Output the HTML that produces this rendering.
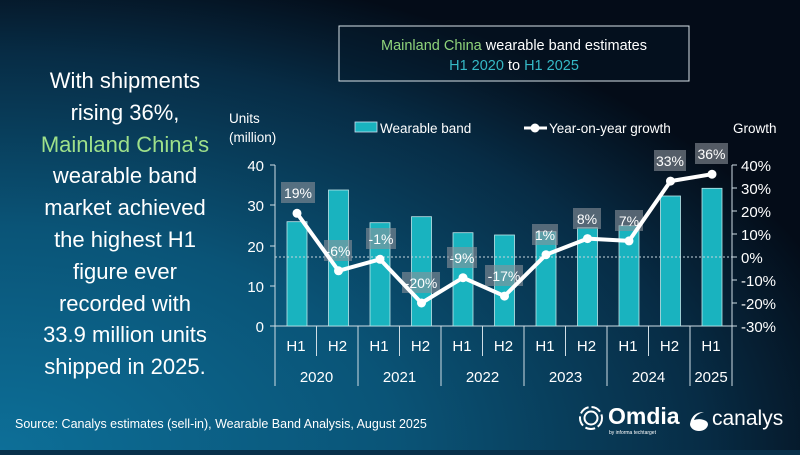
<!DOCTYPE html>
<html><head><meta charset="utf-8"><style>
html,body{margin:0;padding:0}
body{width:800px;height:450px;overflow:hidden;font-family:"Liberation Sans",sans-serif;background:#08304a;}
</style></head><body>
<svg width="800" height="450" viewBox="0 0 800 450" xmlns="http://www.w3.org/2000/svg" font-family="Liberation Sans, sans-serif">
<defs>
<radialGradient id="bg" cx="0" cy="1" r="1.1">
<stop offset="0" stop-color="#0d6f98"/><stop offset="0.45" stop-color="#0a5477"/><stop offset="0.8" stop-color="#072c45"/><stop offset="1" stop-color="#040c18"/>
</radialGradient>
</defs>
<rect width="800" height="450" fill="url(#bg)"/>
<rect x="339" y="26" width="350" height="55" fill="#061a2a" fill-opacity="0.35" stroke="#d8e2e8" stroke-width="1"/>
<text x="514" y="50" text-anchor="middle" font-size="14.5" fill="#fff"><tspan fill="#8fd37a">Mainland China</tspan> wearable band estimates</text>
<text x="514" y="70" text-anchor="middle" font-size="14.5" fill="#fff"><tspan fill="#35b9c6">H1 2020</tspan> to <tspan fill="#35b9c6">H1 2025</tspan></text>
<g font-size="22" fill="#fff" text-anchor="middle">
<text x="125" y="88">With shipments</text>
<text x="125" y="120">rising 36%,</text>
<text x="125" y="152" fill="#9ee08a">Mainland China’s</text>
<text x="125" y="183">wearable band</text>
<text x="125" y="215">market achieved</text>
<text x="125" y="247">the highest H1</text>
<text x="125" y="279">figure ever</text>
<text x="125" y="311">recorded with</text>
<text x="125" y="342">33.9 million units</text>
<text x="125" y="374">shipped in 2025.</text>
</g>
<g font-size="13.5" fill="#fff">
<text x="229" y="123">Units</text>
<text x="229" y="142">(million)</text>
<text x="733" y="133">Growth</text>
<rect x="355" y="122" width="22" height="10" fill="#19b3bf" stroke="#cde" stroke-width="0.8"/>
<text x="380" y="133">Wearable band</text>
<line x1="524" y1="128" x2="547" y2="128" stroke="#fff" stroke-width="3"/>
<circle cx="535" cy="128" r="4.5" fill="#fff"/>
<text x="549" y="133">Year-on-year growth</text>
</g>
<g stroke="#cfdde5" stroke-width="1">
<line x1="275" y1="165" x2="275" y2="386"/>
<line x1="270" y1="165" x2="275" y2="165"/><line x1="270" y1="205" x2="275" y2="205"/>
<line x1="270" y1="246" x2="275" y2="246"/><line x1="270" y1="286" x2="275" y2="286"/>
<line x1="270" y1="326" x2="732" y2="326"/>
<line x1="732" y1="165" x2="732" y2="386"/>
<line x1="732" y1="165" x2="737" y2="165"/><line x1="732" y1="188" x2="737" y2="188"/>
<line x1="732" y1="211" x2="737" y2="211"/><line x1="732" y1="234" x2="737" y2="234"/>
<line x1="732" y1="257" x2="737" y2="257"/><line x1="732" y1="280" x2="737" y2="280"/>
<line x1="732" y1="303" x2="737" y2="303"/><line x1="732" y1="326" x2="737" y2="326"/>
<line x1="316.5" y1="326" x2="316.5" y2="356"/><line x1="358" y1="326" x2="358" y2="386"/>
<line x1="399.5" y1="326" x2="399.5" y2="356"/><line x1="441" y1="326" x2="441" y2="386"/>
<line x1="482.5" y1="326" x2="482.5" y2="356"/><line x1="524" y1="326" x2="524" y2="386"/>
<line x1="565.5" y1="326" x2="565.5" y2="356"/><line x1="607" y1="326" x2="607" y2="386"/>
<line x1="648.5" y1="326" x2="648.5" y2="356"/><line x1="690" y1="326" x2="690" y2="386"/>
</g>
<g font-size="15" fill="#fff" text-anchor="end">
<text x="264" y="171">40</text><text x="264" y="211">30</text><text x="264" y="252">20</text>
<text x="264" y="292">10</text><text x="264" y="332">0</text>
</g>
<g font-size="15" fill="#fff" text-anchor="start">
<text x="741" y="171">40%</text><text x="741" y="194">30%</text><text x="741" y="217">20%</text>
<text x="741" y="240">10%</text><text x="741" y="263">0%</text><text x="741" y="286">-10%</text>
<text x="741" y="309">-20%</text><text x="741" y="332">-30%</text>
</g>
<g fill="#19b3bf" stroke="#bfe6ea" stroke-width="0.8">
<rect x="287" y="221.7" width="20" height="104.3"/>
<rect x="328.5" y="190" width="20" height="136"/>
<rect x="370" y="222.7" width="20" height="103.3"/>
<rect x="411.5" y="216.7" width="20" height="109.3"/>
<rect x="453" y="232.7" width="20" height="93.3"/>
<rect x="494.5" y="235" width="20" height="91"/>
<rect x="536" y="231.7" width="20" height="94.3"/>
<rect x="577.5" y="227.7" width="20" height="98.3"/>
<rect x="619" y="225.7" width="20" height="100.3"/>
<rect x="660.5" y="196" width="20" height="130"/>
<rect x="702" y="188.3" width="20" height="137.7"/>
</g>
<line x1="275" y1="257" x2="732" y2="257" stroke="#c8d6de" stroke-width="1" stroke-dasharray="2,2"/>
<g fill="#8a9199" fill-opacity="0.6">
<rect x="281" y="182" width="34" height="21"/>
<rect x="324" y="240" width="28" height="21"/>
<rect x="366" y="228" width="30" height="21"/>
<rect x="402" y="272" width="38" height="21"/>
<rect x="447" y="247" width="30" height="21"/>
<rect x="485" y="265" width="38" height="21"/>
<rect x="532" y="224" width="26" height="21"/>
<rect x="573" y="208" width="28" height="21"/>
<rect x="615" y="210" width="28" height="21"/>
<rect x="654" y="150" width="32" height="21"/>
<rect x="695" y="143" width="33" height="21"/>
</g>
<g font-size="14" fill="#fff" text-anchor="middle">
<text x="298" y="198">19%</text><text x="338" y="256">-6%</text><text x="381" y="244">-1%</text>
<text x="421" y="288">-20%</text><text x="462" y="263">-9%</text><text x="504" y="281">-17%</text>
<text x="545" y="240">1%</text><text x="587" y="224">8%</text><text x="629" y="226">7%</text>
<text x="670" y="166">33%</text><text x="711.5" y="159">36%</text>
</g>
<polyline fill="none" stroke="#fff" stroke-width="4" stroke-linejoin="round" points="297,213.3 338.5,270.8 380,259.3 421.5,303 463,277.7 504.5,296.1 546,254.7 587.5,238.6 629,240.9 670.5,181.1 712,174.2"/>
<g fill="#fff">
<circle cx="297" cy="213.3" r="4.5"/><circle cx="338.5" cy="270.8" r="4.5"/><circle cx="380" cy="259.3" r="4.5"/>
<circle cx="421.5" cy="303" r="4.5"/><circle cx="463" cy="277.7" r="4.5"/><circle cx="504.5" cy="296.1" r="4.5"/>
<circle cx="546" cy="254.7" r="4.5"/><circle cx="587.5" cy="238.6" r="4.5"/><circle cx="629" cy="240.9" r="4.5"/>
<circle cx="670.5" cy="181.1" r="4.5"/><circle cx="712" cy="174.2" r="4.5"/>
</g>
<g font-size="15" fill="#fff" text-anchor="middle">
<text x="296" y="351">H1</text><text x="337.5" y="351">H2</text><text x="379" y="351">H1</text>
<text x="420.5" y="351">H2</text><text x="462" y="351">H1</text><text x="503.5" y="351">H2</text>
<text x="545" y="351">H1</text><text x="586.5" y="351">H2</text><text x="628" y="351">H1</text>
<text x="669.5" y="351">H2</text><text x="711" y="351">H1</text>
<text x="316.5" y="382">2020</text><text x="399.5" y="382">2021</text><text x="482.5" y="382">2022</text>
<text x="565.5" y="382">2023</text><text x="648.5" y="382">2024</text><text x="711" y="382">2025</text>
</g>
<text x="15" y="428" font-size="12.5" fill="#fff">Source: Canalys estimates (sell-in), Wearable Band Analysis, August 2025</text>
<g fill="none" stroke="#fff">
<circle cx="591" cy="418" r="11" stroke-width="2" stroke-dasharray="10,3"/>
<circle cx="591" cy="418" r="6.5" stroke-width="2"/>
</g>
<text x="608" y="424" font-size="23" font-weight="bold" fill="#fff">Omdia</text>
<text x="609" y="434" font-size="5" fill="#fff">by informa techtarget</text>
<path d="M690 424 a9 7 0 0 0 18 0 a9 5 0 0 0 -14 -4 q2 -6 10 -8 q-12 0 -14 12z" fill="#fff"/>
<text x="712" y="425" font-size="21" fill="#fff">canalys</text>
</svg>
</body></html>
